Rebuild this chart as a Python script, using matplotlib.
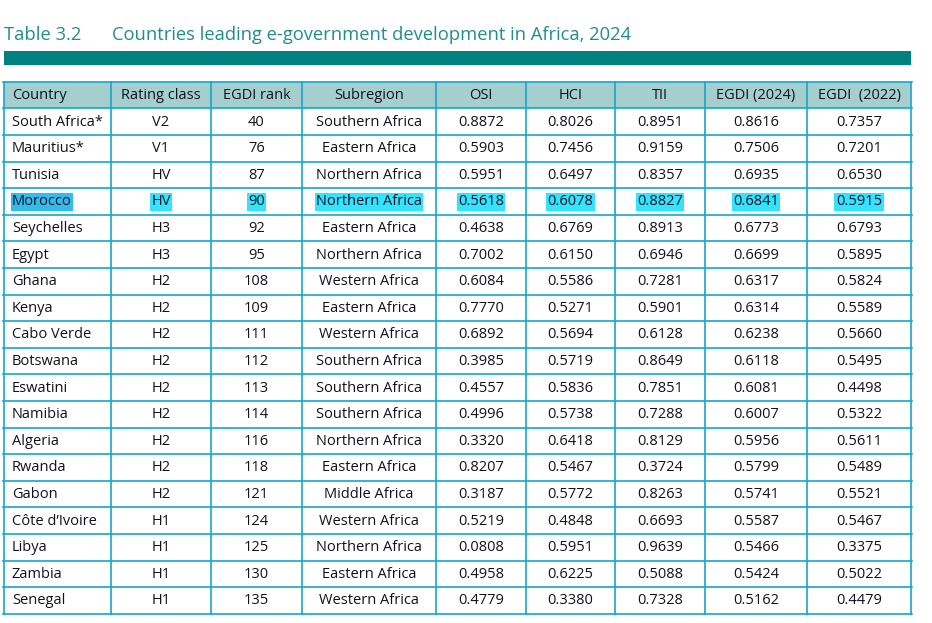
import matplotlib.pyplot as plt
from matplotlib.patches import Rectangle

plt.rcParams['font.family'] = ['Open Sans', 'DejaVu Sans']

titulo_num = "Table 3.2"
titulo = "Countries leading e-government development in Africa, 2024"
colunas = ["Country", "Rating class", "EGDI rank", "Subregion", "OSI", "HCI", "TII",
           "EGDI (2024)", "EGDI  (2022)"]

paises = ["South Africa*", "Mauritius*", "Tunisia", "Morocco", "Seychelles", "Egypt",
          "Ghana", "Kenya", "Cabo Verde", "Botswana", "Eswatini", "Namibia", "Algeria",
          "Rwanda", "Gabon", "Côte d’Ivoire", "Libya", "Zambia", "Senegal"]
classe = ["V2", "V1", "HV", "HV", "H3", "H3", "H2", "H2", "H2", "H2", "H2", "H2", "H2",
          "H2", "H2", "H1", "H1", "H1", "H1"]
rank = [40, 76, 87, 90, 92, 95, 108, 109, 111, 112, 113, 114, 116, 118, 121, 124, 125, 130, 135]
subregiao = ["Southern Africa", "Eastern Africa", "Northern Africa", "Northern Africa",
             "Eastern Africa", "Northern Africa", "Western Africa", "Eastern Africa",
             "Western Africa", "Southern Africa", "Southern Africa", "Southern Africa",
             "Northern Africa", "Eastern Africa", "Middle Africa", "Western Africa",
             "Northern Africa", "Eastern Africa", "Western Africa"]
osi = [0.8872, 0.5903, 0.5951, 0.5618, 0.4638, 0.7002, 0.6084, 0.7770, 0.6892, 0.3985,
       0.4557, 0.4996, 0.3320, 0.8207, 0.3187, 0.5219, 0.0808, 0.4958, 0.4779]
hci = [0.8026, 0.7456, 0.6497, 0.6078, 0.6769, 0.6150, 0.5586, 0.5271, 0.5694, 0.5719,
       0.5836, 0.5738, 0.6418, 0.5467, 0.5772, 0.4848, 0.5951, 0.6225, 0.3380]
tii = [0.8951, 0.9159, 0.8357, 0.8827, 0.8913, 0.6946, 0.7281, 0.5901, 0.6128, 0.8649,
       0.7851, 0.7288, 0.8129, 0.3724, 0.8263, 0.6693, 0.9639, 0.5088, 0.7328]
egdi24 = [0.8616, 0.7506, 0.6935, 0.6841, 0.6773, 0.6699, 0.6317, 0.6314, 0.6238, 0.6118,
          0.6081, 0.6007, 0.5956, 0.5799, 0.5741, 0.5587, 0.5466, 0.5424, 0.5162]
egdi22 = [0.7357, 0.7201, 0.6530, 0.5915, 0.6793, 0.5895, 0.5824, 0.5589, 0.5660, 0.5495,
          0.4498, 0.5322, 0.5611, 0.5489, 0.5521, 0.5467, 0.3375, 0.5022, 0.4479]
destaque = "Morocco"

# layout em pixels
xs = [4, 111, 211, 302, 436, 526, 615, 705, 807, 911]
y0, h = 81.7, 26.6
teal = '#008080'
linha = '#17a6c8'
cor_txt = '#12121f'

fig = plt.figure(figsize=(9.32, 6.23), dpi=100)
ax = fig.add_axes([0, 0, 1, 1])
ax.set_xlim(0, 932)
ax.set_ylim(623, 0)
ax.axis('off')

ax.text(4, 35, titulo_num, color='#238c8c', fontsize=13.2, va='center', ha='left')
ax.text(112, 35, titulo, color='#238c8c', fontsize=13.2, va='center', ha='left')
ax.add_patch(Rectangle((4, 51), 907, 14, color=teal, lw=0))

nlin = len(paises) + 1
ax.add_patch(Rectangle((xs[0], y0), xs[-1] - xs[0], h, color='#a5cfcf', lw=0))

for i, c in enumerate(colunas):
    if i == 0:
        ax.text(xs[0] + 8, y0 + h / 2 + 0.5, c, fontsize=10.5, va='center', ha='left', color=cor_txt)
    else:
        ax.text((xs[i] + xs[i + 1]) / 2, y0 + h / 2 + 0.5, c, fontsize=10.5, va='center',
                ha='center', color=cor_txt)

for r in range(len(paises)):
    yc = y0 + (r + 1.5) * h + 0.5
    vals = [paises[r], classe[r], str(rank[r]), subregiao[r], f"{osi[r]:.4f}",
            f"{hci[r]:.4f}", f"{tii[r]:.4f}", f"{egdi24[r]:.4f}", f"{egdi22[r]:.4f}"]
    for i, v in enumerate(vals):
        bb = None
        if paises[r] == destaque:
            fc = '#33bbee' if i == 0 else '#33e3ff'
            bb = dict(boxstyle='square,pad=0.1', fc=fc, ec='none')
        if i == 0:
            ax.text(xs[0] + 8, yc, v, fontsize=10.5, va='center', ha='left',
                    color=cor_txt, bbox=bb)
        else:
            ax.text((xs[i] + xs[i + 1]) / 2, yc, v, fontsize=10.5, va='center',
                    ha='center', color=cor_txt, bbox=bb)

for k in range(nlin + 1):
    ax.plot([xs[0] - 1, xs[-1] + 1], [y0 + k * h] * 2, color=linha, lw=1.2)
for x in xs:
    ax.plot([x, x], [y0, y0 + nlin * h], color=linha, lw=1.2)

fig.savefig('out.png', dpi=100)
